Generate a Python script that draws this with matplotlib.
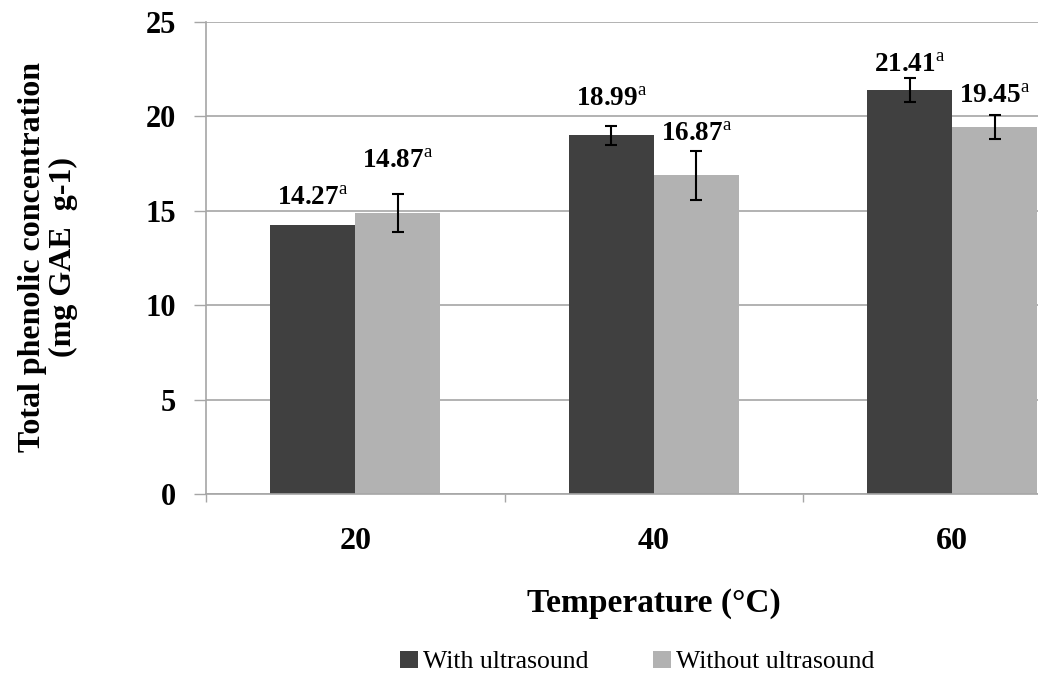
import numpy as np
import matplotlib
matplotlib.use("Agg")
import matplotlib.pyplot as plt

# data
temps = ["20", "40", "60"]
with_us = [14.27, 18.99, 21.41]
with_us_err = [0.0, 0.5, 0.63]
without_us = [14.87, 16.87, 19.45]
without_us_err = [1.0, 1.3, 0.64]
series_names = ["With ultrasound", "Without ultrasound"]
y_ticks = [0, 5, 10, 15, 20, 25]

# label gap above error bar (points), tuned by eye
gap_with = [19, 19, 9]
gap_without = [24, 12, 13]

plt.rcParams["font.family"] = ["Liberation Serif", "DejaVu Serif"]
plt.rcParams["mathtext.fontset"] = "custom"
plt.rcParams["mathtext.rm"] = "Liberation Serif"
plt.rcParams["mathtext.bf"] = "Liberation Serif:bold"

dark = "#404040"
light = "#b2b2b2"
grid_c = "#a6a6a6"

fig = plt.figure(figsize=(10.38, 6.75), dpi=100)
ax = fig.add_axes([206 / 1038, 181 / 675, 895.5 / 1038, 472 / 675])

x = np.arange(len(temps))
w = 0.285
b1 = ax.bar(x - w / 2, with_us, w, color=dark, zorder=2, label=series_names[0])
b2 = ax.bar(x + w / 2, without_us, w, color=light, zorder=2, label=series_names[1])

for xs, vals, errs in [(x - w / 2, with_us, with_us_err), (x + w / 2, without_us, without_us_err)]:
    for xi, v, e in zip(xs, vals, errs):
        if e > 0:
            ax.errorbar(xi, v, yerr=e, fmt="none", ecolor="black", elinewidth=1.5,
                        capsize=4.5, capthick=1.5, zorder=3)

for xs, vals, errs, gaps in [(x - w / 2, with_us, with_us_err, gap_with),
                             (x + w / 2, without_us, without_us_err, gap_without)]:
    for xi, v, e, g in zip(xs, vals, errs, gaps):
        ax.annotate(f"{v:.2f}" + r"$^{\mathrm{a}}$", (xi, v + e), xytext=(0, g),
                    textcoords="offset points", ha="center", va="center",
                    fontsize=19.5, fontweight="bold")

ax.set_xlim(-0.5, len(temps) - 0.5)
ax.set_ylim(0, 25)
ax.set_yticks(y_ticks)
ax.set_yticklabels([str(t) for t in y_ticks], fontsize=22, fontweight="bold")
ax.yaxis.grid(True, color=grid_c, linewidth=1.2, zorder=0)
ax.set_axisbelow(True)
ax.tick_params(axis="y", length=8.6, width=1, color=grid_c, pad=13)

ax.set_xticks(np.arange(len(temps) + 1) - 0.5)
ax.set_xticklabels([])
ax.set_xticks(x, minor=True)
ax.set_xticklabels(temps, minor=True, fontsize=23, fontweight="bold")
ax.tick_params(axis="x", which="major", length=6, width=1, color=grid_c)
ax.tick_params(axis="x", which="minor", length=0, pad=24)

for s in ["top", "right"]:
    ax.spines[s].set_visible(False)
for s in ["left", "bottom"]:
    ax.spines[s].set_color(grid_c)
    ax.spines[s].set_linewidth(1.2)

ax.set_xlabel("Temperature (°C)", fontsize=24, fontweight="bold", labelpad=23)

fig.text(48 / 1038, 1 - 257 / 675, "Total phenolic concentration\n(mg GAE  g-1)",
         rotation=90, ha="center", va="center", fontsize=23, fontweight="bold",
         multialignment="center", linespacing=1.05)

fig.legend(handles=[b1, b2], loc="center", bbox_to_anchor=(637 / 1038, 1 - 662 / 675),
           ncol=2, frameon=False, fontsize=18.5, handlelength=0.7, handleheight=0.7,
           handletextpad=0.2, columnspacing=2.5)

fig.savefig("out.png", dpi=100)
